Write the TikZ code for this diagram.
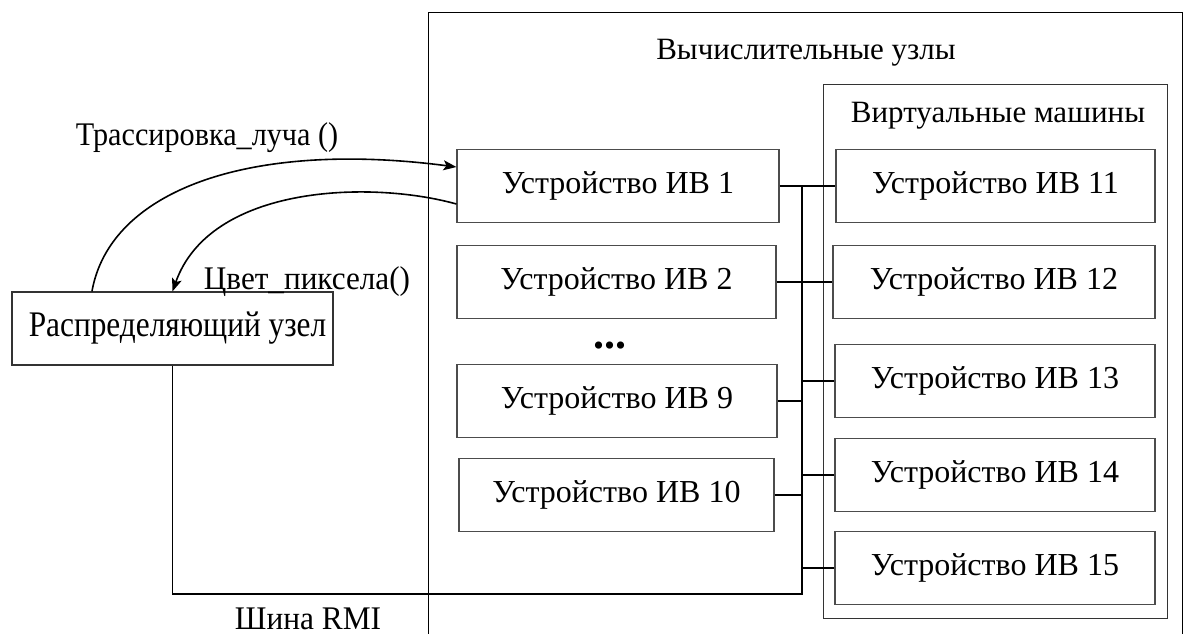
\documentclass[tikz,border=0pt]{standalone}
\usepackage{fontspec}
\usepackage{graphicx}
\setmainfont{Liberation Serif}
\usetikzlibrary{arrows.meta,calc}
\newcommand\narrow[2]{\scalebox{#1}[1]{#2}}
\begin{document}
\begin{tikzpicture}[x=1pt,y=-1pt,
  ivbox/.style={draw=black!70,line width=1.2pt,minimum width=#1,minimum height=73pt,inner sep=0pt,font=\fontsize{32}{38}\selectfont},
  frame/.style={draw=black,line width=1pt,inner sep=0pt},
  bus/.style={draw=black,line width=1.8pt},
  flow/.style={draw=black,line width=1.6pt,-{Stealth[length=13pt,width=10pt,inset=3pt]}},
  lbl/.style={inner sep=0pt,anchor=base}
]
\useasboundingbox (0,0) rectangle (1187,634);
\clip (0,0) rectangle (1187,634);
% containers
\node[frame,minimum width=754pt,minimum height=700pt,anchor=north west] (comp) at (428,12) {};
\node[frame,draw=black!80,minimum width=344pt,minimum height=534pt,anchor=north west] (vm) at (823,84) {};
\node[lbl,font=\fontsize{31}{36}\selectfont] (compt) at (806,60) {Вычислительные узлы};
\node[lbl,font=\fontsize{31}{36}\selectfont] (vmt) at (998,122) {Виртуальные машины};
% left column
\node[ivbox=322pt] (iv1) at (618,186) {Устройство ИВ 1};
\node[ivbox=319pt] (iv2) at (616.5,282) {Устройство ИВ 2};
\node[lbl,font=\fontsize{44}{48}\selectfont\bfseries] (dots) at (610,348) {...};
\node[ivbox=320pt] (iv9) at (617,401) {Устройство ИВ 9};
\node[ivbox=315pt] (iv10) at (616.5,495) {Устройство ИВ 10};
% right column
\node[ivbox=319pt] (iv11) at (995.5,186) {Устройство ИВ 11};
\node[ivbox=322pt] (iv12) at (994,282) {Устройство ИВ 12};
\node[ivbox=320pt] (iv13) at (995,381) {Устройство ИВ 13};
\node[ivbox=320pt] (iv14) at (995,475) {Устройство ИВ 14};
\node[ivbox=320pt] (iv15) at (995,568) {Устройство ИВ 15};
% distributor
\node[draw=black!80,line width=1.2pt,minimum width=321pt,minimum height=73pt,inner sep=0pt,font=\fontsize{36}{42}\selectfont] (dist) at (172.5,328.5) {\hspace*{10pt}\narrow{0.87}{Распределяющий узел}};
% bus
\coordinate (busx) at (802,0);
\coordinate (busbot) at (802,594);
\draw[bus] (iv1.east) -- (iv11.west);
\draw[bus] (iv2.east) -- (iv12.west);
\draw[bus] (dist.south) |- (busbot) -- (busx |- iv1.east);
\draw[bus] (iv9.east) -- (iv9.east -| busx);
\draw[bus] (iv10.east) -- (iv10.east -| busx);
\draw[bus] (iv13.west) -- (iv13.west -| busx);
\draw[bus] (iv14.west) -- (iv14.west -| busx);
\draw[bus] (iv15.west) -- (iv15.west -| busx);
\node[lbl,font=\fontsize{33}{38}\selectfont] (rmi) at (308,629) {\narrow{0.95}{Шина RMI}};
% calls
\draw[flow] ($(dist.north west)!0.25!(dist.north east)$) .. controls (110,190) and (250,140) .. ([yshift=19pt]iv1.west);
\draw[flow] ([yshift=-18pt]iv1.west) .. controls (370,180) and (210,185) .. (dist.north);
\node[lbl,font=\fontsize{33}{38}\selectfont] (tr) at (207,146) {\narrow{0.915}{Трассировка\_луча ()}};
\node[lbl,font=\fontsize{33}{38}\selectfont] (cv) at (307,289) {\narrow{0.945}{Цвет\_пиксела()}};
\end{tikzpicture}
\end{document}
